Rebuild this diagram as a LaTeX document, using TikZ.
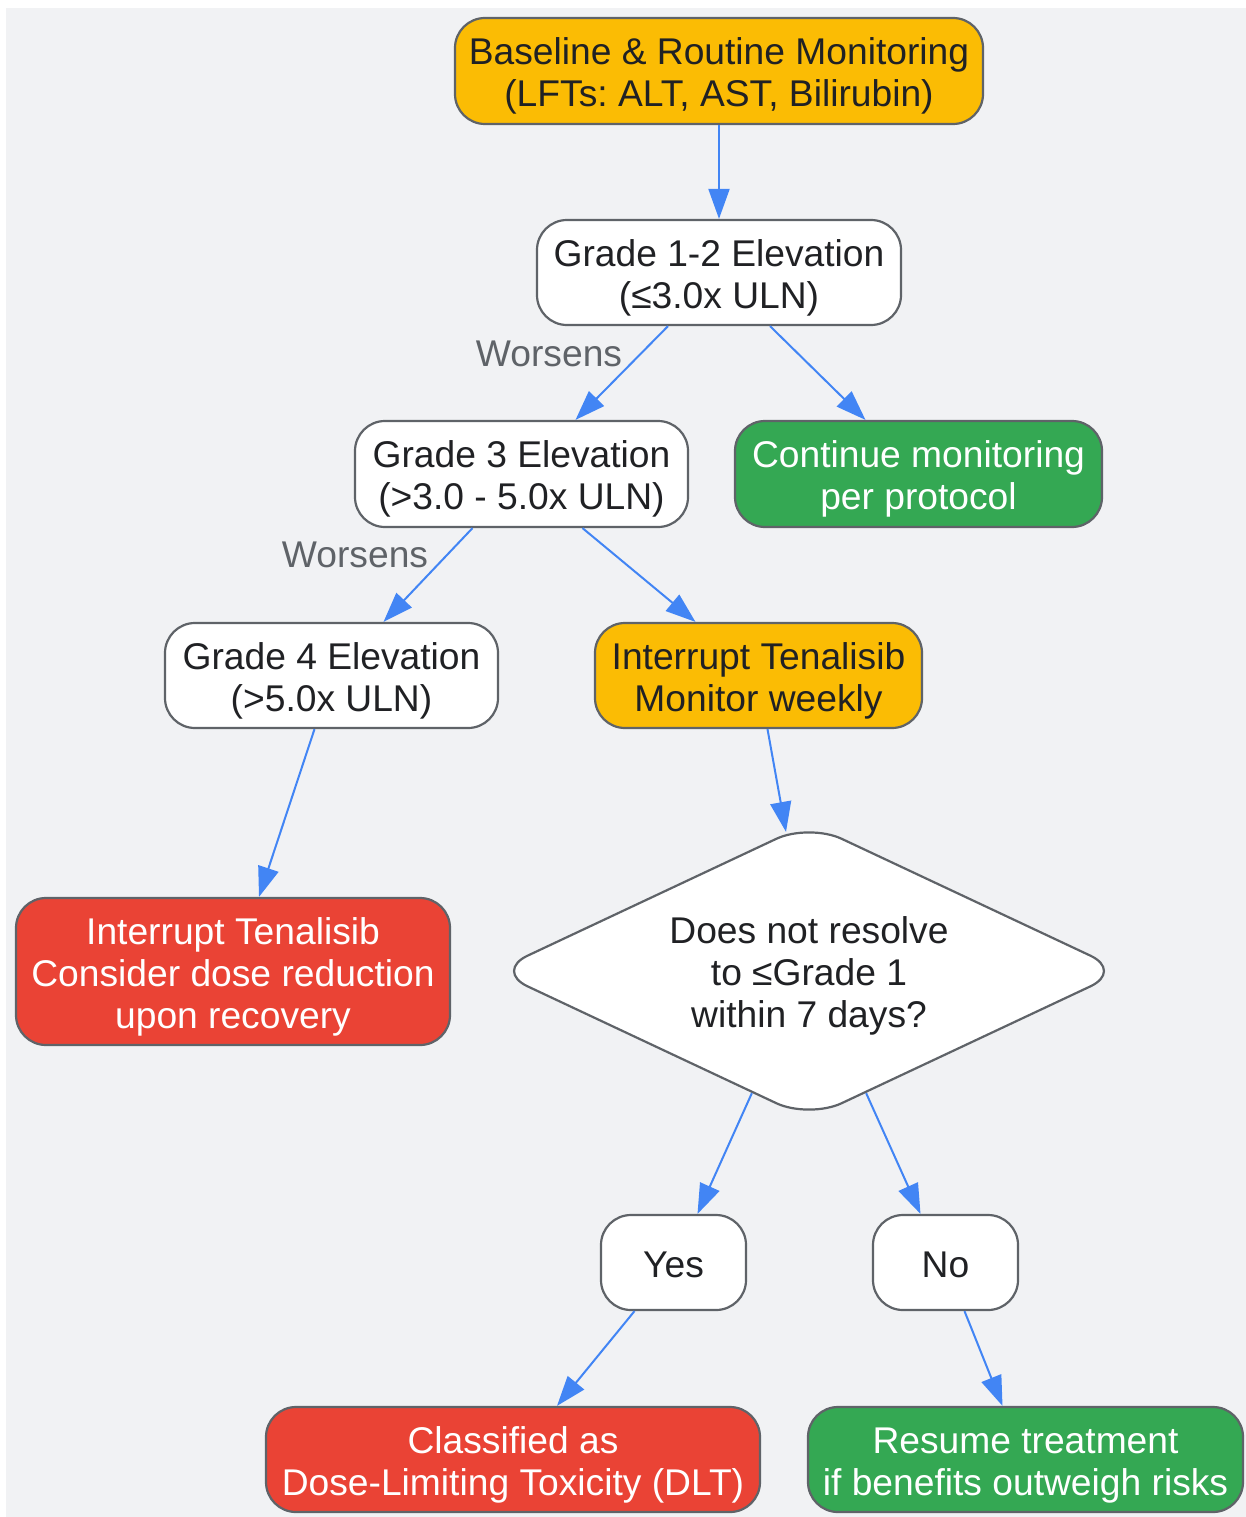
\documentclass[tikz,border=0pt]{standalone}
\usepackage{fontspec}
\setmainfont{Liberation Sans}
\frenchspacing
\usetikzlibrary{arrows.meta,shapes.geometric,calc}
\definecolor{cBg}{HTML}{F1F2F4}
\definecolor{cBord}{HTML}{5F6368}
\definecolor{cYel}{HTML}{FBBC04}
\definecolor{cGrn}{HTML}{34A853}
\definecolor{cRed}{HTML}{EA4335}
\definecolor{cBlu}{HTML}{4285F4}
\definecolor{cTxt}{HTML}{202124}
\definecolor{cLbl}{HTML}{5F6368}
\newcommand\Tst{\rule{0pt}{38pt}}
\newcommand\Bst{\rule[-8.4pt]{0pt}{0pt}}
\begin{document}
\begin{tikzpicture}[x=1pt,y=1pt,
  txtbox/.style={inner sep=0pt, align=center, font=\fontsize{37.2}{42}\selectfont, text=cTxt},
  box/.style={txtbox, draw=cBord, line width=2.2pt, rounded corners=30pt},
  wbox/.style={box, fill=white},
  ybox/.style={box, fill=cYel},
  gbox/.style={box, fill=cGrn, text=white},
  rbox/.style={box, fill=cRed, text=white},
  decis/.style={txtbox, draw=cBord, line width=2.2pt, fill=white, diamond, aspect=2.125,
    rounded corners=36pt, minimum width=629pt, minimum height=296pt},
  conn/.style={draw=cBlu, line width=2pt, -{Triangle[length=30pt,width=21pt]}},
  lbl/.style={text=cLbl, inner sep=0pt, font=\fontsize{37.2}{42}\selectfont}
]
\useasboundingbox (0,0) rectangle (1246,-1517);
\fill[white] (0,0) rectangle (1246,-1517);
\fill[cBg] (6,-8) rectangle (1246,-1517);

\node[ybox, minimum width=528pt, minimum height=106pt] (top) at (719,-71) {\Tst Baseline \& Routine Monitoring\\(LFTs: ALT, AST, Bilirubin)\Bst};
\node[wbox, minimum width=364pt, minimum height=105pt] (g12) at (719,-272.5) {\Tst Grade 1-2 Elevation\\(≤3.0x ULN)\Bst};
\node[wbox, minimum width=333pt, minimum height=106pt] (g3) at (521.5,-474) {\Tst Grade 3 Elevation\\(>3.0 - 5.0x ULN)\Bst};
\node[gbox, minimum width=367pt, minimum height=106pt] (cont) at (918.5,-474) {\Tst Continue monitoring\\per protocol\Bst};
\node[wbox, minimum width=333pt, minimum height=105pt] (g4) at (331.5,-675.5) {\Tst Grade 4 Elevation\\(>5.0x ULN)\Bst};
\node[ybox, minimum width=327pt, minimum height=105pt] (intr) at (758.5,-675.5) {\Tst Interrupt Tenalisib\\Monitor weekly\Bst};
\node[decis] (dia) at (809,-971) {\Tst Does not resolve\\to ≤Grade 1\\within 7 days?\Bst};
\node[rbox, minimum width=434pt, minimum height=147pt] (red1) at (233,-971.5) {\Tst Interrupt Tenalisib\\Consider dose reduction\\upon recovery\Bst};
\node[wbox, minimum width=145pt, minimum height=95pt] (yes) at (673.5,-1262.5) {\Tst Yes\Bst};
\node[wbox, minimum width=145pt, minimum height=95pt] (no) at (945.5,-1262.5) {\Tst No\Bst};
\node[rbox, minimum width=494pt, minimum height=105pt] (dlt) at (513,-1459.5) {\Tst Classified as\\Dose-Limiting Toxicity (DLT)\Bst};
\node[gbox, minimum width=435pt, minimum height=105pt] (res) at (1025.5,-1459.5) {\Tst Resume treatment\\if benefits outweigh risks\Bst};

\node[lbl] (w1) at (549,-354) {Worsens};
\node[lbl] (w2) at (355,-555) {Worsens};

\draw[conn] (top.south) -- (g12.north);
\draw[conn] ([xshift=-51pt]g12.south) -- ([xshift=54pt]g3.north);
\draw[conn] ([xshift=51pt]g12.south) -- ([xshift=-53pt]cont.north);
\draw[conn] ([xshift=-49pt]g3.south) -- ([xshift=52pt]g4.north);
\draw[conn] ([xshift=61pt]g3.south) -- ([xshift=-63pt]intr.north);
\draw[conn] ([xshift=-17pt]g4.south) -- ([xshift=26pt]red1.north);
\draw[conn] ([xshift=9pt]intr.south) -- ([xshift=-23pt,yshift=-10pt]dia.north);
\draw[conn] ($(dia.west)!0.819!(dia.south)$) -- ([xshift=24pt]yes.north);
\draw[conn] ($(dia.south)!0.181!(dia.east)$) -- ([xshift=-25pt]no.north);
\draw[conn] ([xshift=-39pt]yes.south) -- ([xshift=44pt]dlt.north);
\draw[conn] ([xshift=19pt]no.south) -- ([xshift=-23pt]res.north);
\end{tikzpicture}
\end{document}
